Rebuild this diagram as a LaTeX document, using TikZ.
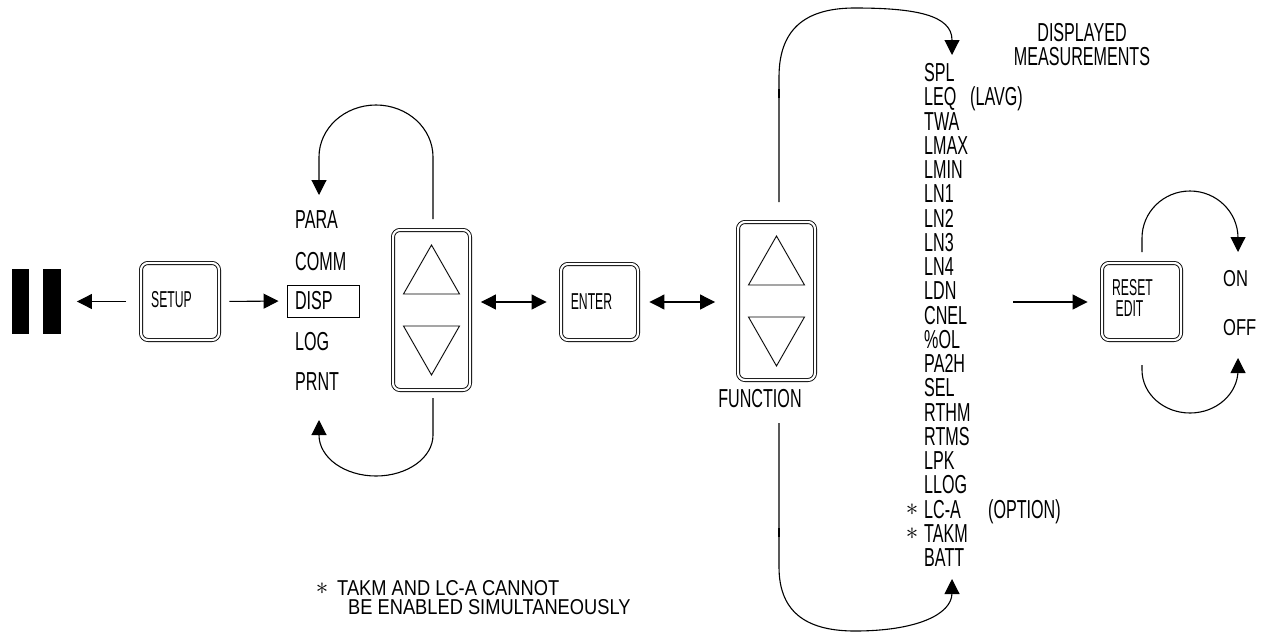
\documentclass[tikz,border=0pt]{standalone}
\usepackage{fontspec}
\setmainfont{Liberation Sans}[FakeStretch=0.62]
\newfontfamily\keyfont{Liberation Sans}[FakeStretch=0.53]
\newfontfamily\switchfont{Liberation Sans}[FakeStretch=0.72]
\newfontfamily\notefont{Liberation Sans}[FakeStretch=0.85]
\usetikzlibrary{arrows.meta}

\begin{document}
\begin{tikzpicture}[x=1pt,y=1pt,
  line/.style={line width=1.1pt},
  arr/.style={line, -{Triangle[length=15pt,width=15pt]}},
  darr/.style={line, {Triangle[length=15pt,width=15pt]}-{Triangle[length=15pt,width=15pt]}},
  key/.style={draw, line width=0.9pt, double, double distance=2.2pt,
              rounded corners=7pt, inner sep=0pt},
  keytxt/.style={font=\keyfont\fontsize{23}{23}\selectfont, inner sep=0pt,
                 text height=15pt, text depth=0pt},
  item/.style={font=\fontsize{26}{26}\selectfont, inner sep=0pt, anchor=west,
               text height=17pt, text depth=0pt},
  switch/.style={font=\switchfont\fontsize{23}{23}\selectfont, inner sep=0pt,
                 anchor=west, text height=16pt, text depth=0pt},
  note/.style={font=\notefont\fontsize{21.5}{21.5}\selectfont, inner sep=0pt,
               anchor=west, text height=14pt, text depth=0pt},
  star/.style={font=\fontsize{23}{23}\selectfont, inner sep=0pt},
  bar/.style={fill=black, inner sep=0pt, minimum width=17.5pt, minimum height=65pt}
]
\useasboundingbox (0,0) rectangle (1266,-632);

% pause symbol
\node[bar] (bar1) at (20.5,-301.5) {};
\node[bar] (bar2) at (52,-301.5) {};

% keys
\node[key, minimum width=78pt, minimum height=77pt] (setup) at (180,-301.5) {};
\node[keytxt] (setuptxt) at (171.5,-300) {SETUP};
\node[key, minimum width=77pt, minimum height=160pt] (ud1) at (431.5,-310) {};
\node[key, minimum width=77pt, minimum height=76pt] (enter) at (599.5,-302) {};
\node[keytxt] (entertxt) at (591.5,-302) {ENTER};
\node[key, minimum width=77pt, minimum height=158pt] (func) at (776.5,-301) {};
\node[item, anchor=center] (functxt) at (760,-399) {FUNCTION};
\node[key, minimum width=79pt, minimum height=77pt] (reset) at (1141.5,-301.5) {};
\node[keytxt] (resettxt) at (1132.5,-288) {RESET};
\node[keytxt] (edittxt) at (1129.5,-309) {EDIT};

% arrow keys
\foreach \k in {ud1,func}{
  \begin{scope}[shift={(\k.center)}]
    \draw[line width=0.9pt] (-28,16) -- (0,65) -- (28,16) -- cycle;
    \draw[line width=0.9pt] (-28,-16) -- (0,-65) -- (28,-16) -- cycle;
  \end{scope}
}

% setup menu
\node[item] (para) at (295,-220) {PARA};
\node[item] (comm) at (295,-262) {COMM};
\node[item, draw, line width=0.9pt, inner xsep=8pt, inner ysep=7.5pt,
      text width=56pt, align=left, anchor=center] (disp) at (323,-301) {DISP};
\node[item] (log) at (295,-342) {LOG};
\node[item] (prnt) at (295,-382) {PRNT};

% displayed measurements
\node[item, anchor=center] (hd1) at (1082,-32.5) {DISPLAYED};
\node[item, anchor=center] (hd2) at (1082,-56.5) {MEASUREMENTS};
\foreach \t [count=\i from 0] in {SPL,LEQ,TWA,LMAX,LMIN,LN1,LN2,LN3,LN4,LDN,CNEL,\%OL,PA2H,SEL,RTHM,RTMS,LPK,LLOG,LC-A,TAKM,BATT}{
  \node[item] (m\i) at (924,-73-24.25*\i) {\t};
}
\node[item] (lavg) at (970,-73-24.25) {(LAVG)};
\node[item] (option) at (988,-73-24.25*18) {(OPTION)};
\node[star] (s1) at (912,-73-24.25*18) {$\ast$};
\node[star] (s2) at (912,-73-24.25*19) {$\ast$};

% on / off
\node[switch] (on) at (1223,-278) {ON};
\node[switch] (off) at (1223,-327) {OFF};

% footnote
\node[star] (fs) at (322,-589) {$\ast$};
\node[note] (f1) at (337,-588.5) {TAKM AND LC-A CANNOT};
\node[note] (f2) at (348,-607.5) {BE ENABLED SIMULTANEOUSLY};

% horizontal connectors
\draw[arr, shorten <=14.5pt, shorten >=16pt] (setup.west) -- (bar2.east);
\draw[arr, shorten <=10pt, shorten >=8pt] (setup.east) -- (disp.west);
\draw[darr, shorten <=10.5pt, shorten >=14pt] (ud1.east |- enter.west) -- (enter.west);
\draw[darr, shorten <=11pt, shorten >=22.5pt] (enter.east) -- (func.west |- enter.east);
\coordinate (listout) at (1013,-302);
\draw[arr, shorten >=14pt] (listout) -- (reset.west |- listout);

% menu scroll loops
\coordinate (udtop) at (433,-219);
\coordinate (udbot) at (433,-398);
\coordinate (paratip) at (319,-195);
\coordinate (prnttip) at (319,-420);
\draw[arr] (udtop) -- (433,-157) arc[start angle=0, end angle=180, x radius=57, y radius=52] -- (paratip);
\draw[arr] (udbot) -- (433,-435) arc[start angle=0, end angle=-180, x radius=57, y radius=41] -- (prnttip);

% measurement scroll loops
\coordinate (ftop) at (779,-202);
\coordinate (fbot) at (779,-423);
\coordinate (spltip) at (952,-55);
\coordinate (batttip) at (952,-579);
\draw[arr] (ftop) -- (779,-77) .. controls (779,-25) and (810,-8) .. (855,-8)
  .. controls (915,-8) and (952,-15) .. (952,-40) -- (spltip);
\draw[arr] (fbot) -- (779,-567) .. controls (779,-615) and (810,-631) .. (855,-631)
  .. controls (915,-631) and (952,-615) .. (952,-593) -- (batttip);
\draw[line width=2.4pt] (779,-89) -- (779,-98);
\draw[line width=2.4pt] (779,-528) -- (779,-537);

% on/off toggle loops
\coordinate (rtop) at (1142,-252);
\coordinate (rbot) at (1142,-365);
\coordinate (ontip) at (1238,-252);
\coordinate (offtip) at (1238,-358);
\draw[arr] (rtop) -- (1142,-238) arc[start angle=180, end angle=0, x radius=48, y radius=47] -- (ontip);
\draw[arr] (rbot) -- (1142,-370) arc[start angle=180, end angle=360, x radius=48, y radius=43] -- (offtip);
\end{tikzpicture}
\end{document}
